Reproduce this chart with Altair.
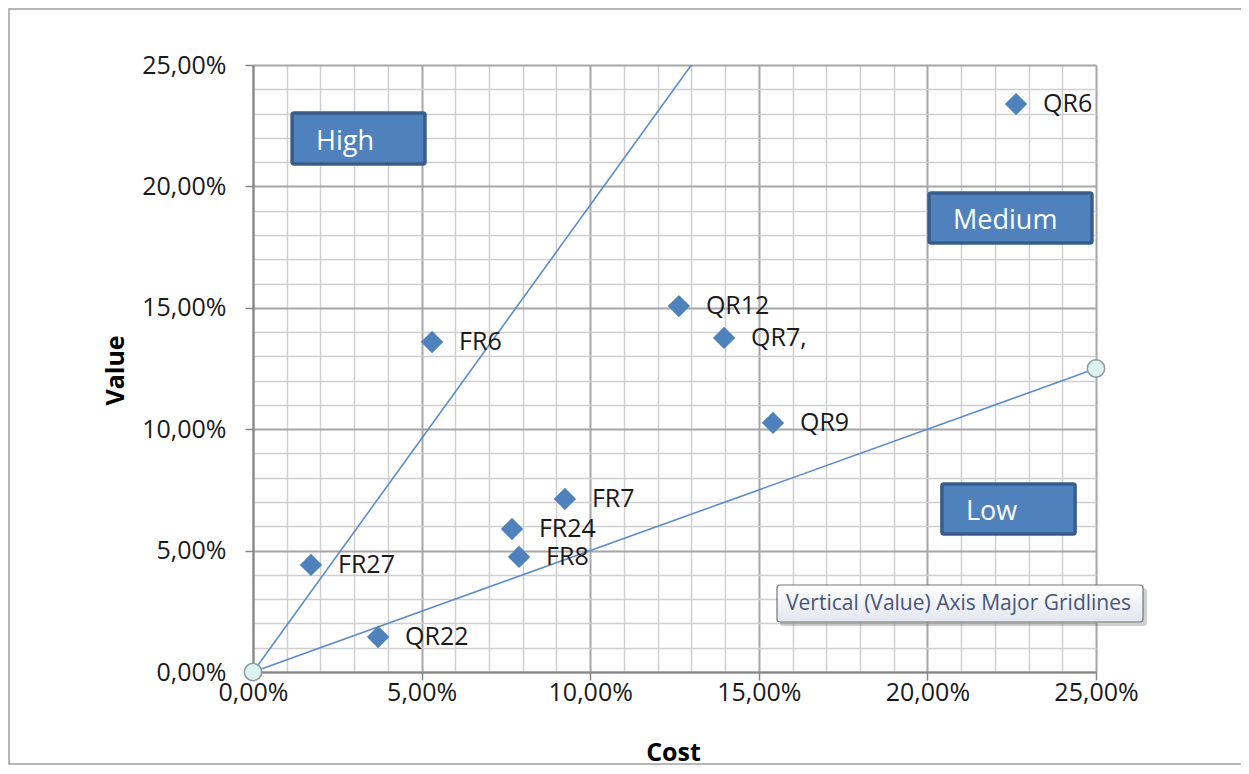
import altair as alt
import pandas as pd

# ---- data ----
names = ["QR6", "QR12", "QR7,", "FR6", "QR9", "FR7", "FR24", "FR8", "FR27", "QR22"]
cost = [0.2263, 0.1263, 0.1397, 0.0531, 0.1542, 0.0925, 0.0768, 0.0789, 0.0172, 0.0371]
value = [0.2339, 0.1507, 0.1376, 0.1359, 0.1026, 0.0713, 0.0589, 0.0474, 0.0441, 0.0144]

line_id = ["upper", "upper", "lower", "lower"]
line_cost = [0.0, 0.13, 0.0, 0.25]
line_value = [0.0, 0.25, 0.0, 0.125]

endpoint_cost = [0.0, 0.25]
endpoint_value = [0.0, 0.125]

box_labels = ["High", "Medium", "Low"]
box_x1 = [0.0116, 0.2005, 0.2043]
box_x2 = [0.0510, 0.2488, 0.2438]
box_y1 = [0.2092, 0.1767, 0.0568]
box_y2 = [0.2302, 0.1973, 0.0774]

tip_text = ["Vertical (Value) Axis Major Gridlines"]

grid_ticks = [0.00, 0.01, 0.02, 0.03, 0.04, 0.05, 0.06, 0.07, 0.08, 0.09,
              0.10, 0.11, 0.12, 0.13, 0.14, 0.15, 0.16, 0.17, 0.18, 0.19,
              0.20, 0.21, 0.22, 0.23, 0.24, 0.25]

pts = pd.DataFrame({"name": names, "cost": cost, "value": value})
lines = pd.DataFrame({"id": line_id, "cost": line_cost, "value": line_value})
ends = pd.DataFrame({"cost": endpoint_cost, "value": endpoint_value})
boxes = pd.DataFrame({"label": box_labels, "x1": box_x1, "x2": box_x2, "y1": box_y1, "y2": box_y2})
boxes["ym"] = (boxes["y1"] + boxes["y2"]) / 2
tip = pd.DataFrame({"t": tip_text})

FONT = "Open Sans"
major = "round(datum.value*100) % 5 == 0"
lab = f"{major} ? replace(format(datum.value, '.2%'), '.', ',') : ''"

common = dict(
    values=grid_ticks,
    labelExpr=lab,
    labelOverlap=False,
    labelFlush=False,
    gridColor={"condition": {"test": major, "value": "#a6a6a6"}, "value": "#cfcfcf"},
    gridWidth={"condition": {"test": major, "value": 2}, "value": 1.5},
    tickOpacity={"condition": {"test": major, "value": 1}, "value": 0},
    tickColor="#868686",
    tickWidth=1.5,
    tickSize=8,
    domainColor="#868686",
    domainWidth=2,
    labelFont=FONT,
    labelFontSize=25,
    labelColor="#1a1a1a",
    titleFont=FONT,
    titleFontSize=25,
    titleFontWeight="bold",
    titleColor="#000000",
    titleBaseline="middle",
)

xaxis = alt.Axis(title="Cost", labelPadding=0, titleX=420, titleY=80, titleAngle=0, **common)
yaxis = alt.Axis(title="Value", labelPadding=19, titleX=-138, titleY=305, titleAngle=-90, **common)

xs = alt.Scale(domain=[0, 0.25], nice=False, zero=True)
ys = alt.Scale(domain=[0, 0.25], nice=False, zero=True)

base_x = alt.X("cost:Q", scale=xs, axis=xaxis)
base_y = alt.Y("value:Q", scale=ys, axis=yaxis)

border = alt.Chart(tip).mark_rect(fill=None, stroke="#a0a0a0", strokeWidth=1.5, clip=False).encode(
    x=alt.value(-244), x2=alt.value(1400), y=alt.value(-56), y2=alt.value(699)
)

line_layer = alt.Chart(lines).mark_line(color="#5b8ccb", strokeWidth=1.6, clip=True).encode(
    x=base_x, y=base_y, detail="id:N"
)

end_layer = alt.Chart(ends).mark_point(
    shape="circle", filled=True, size=300, fill="#dcf3f3", stroke="#8c9a9a", strokeWidth=1.5, opacity=1
).encode(x=alt.X("cost:Q", scale=xs), y=alt.Y("value:Q", scale=ys))

pt_layer = alt.Chart(pts).mark_point(
    shape="diamond", filled=True, size=500, color="#4f81bd", opacity=1
).encode(x=alt.X("cost:Q", scale=xs), y=alt.Y("value:Q", scale=ys))

txt_layer = alt.Chart(pts).mark_text(
    align="left", baseline="middle", dx=27, font=FONT, fontSize=25, color="#1a1a1a"
).encode(x=alt.X("cost:Q", scale=xs), y=alt.Y("value:Q", scale=ys), text="name:N")

box_layer = alt.Chart(boxes).mark_rect(
    fill="#4f81bd", stroke="#385d8a", strokeWidth=3.5, cornerRadius=2
).encode(
    x=alt.X("x1:Q", scale=xs), x2="x2:Q", y=alt.Y("y1:Q", scale=ys), y2="y2:Q"
)

box_txt = alt.Chart(boxes).mark_text(
    align="left", baseline="middle", dx=24, dy=3, font=FONT, fontSize=27, color="#ffffff"
).encode(x=alt.X("x1:Q", scale=xs), y=alt.Y("ym:Q", scale=ys), text="label:N")

tip_shadow = alt.Chart(tip).mark_rect(fill="#000000", opacity=0.18, cornerRadius=3, clip=False).encode(
    x=alt.value(527), x2=alt.value(894), y=alt.value(523), y2=alt.value(561)
)
tip_rect = alt.Chart(tip).mark_rect(
    stroke="#767676", strokeWidth=1.2, cornerRadius=3, clip=False,
    fill=alt.Gradient(gradient="linear", x1=0, x2=0, y1=0, y2=1,
                      stops=[alt.GradientStop(color="#ffffff", offset=0),
                             alt.GradientStop(color="#e3e6ef", offset=1)]),
).encode(x=alt.value(524), x2=alt.value(890), y=alt.value(520), y2=alt.value(557))
tip_txt = alt.Chart(tip).mark_text(
    align="left", baseline="middle", font=FONT, fontSize=21, color="#46557a", clip=False
).encode(x=alt.value(533), y=alt.value(539), text="t:N")

chart = alt.layer(
    border, line_layer, end_layer, pt_layer, txt_layer, box_layer, box_txt, tip_shadow, tip_rect, tip_txt
).encode(
    x=base_x, y=base_y
).properties(
    width=843,
    height=607,
    padding={"left": 245, "top": 57, "right": 145, "bottom": 94},
    autosize=alt.AutoSizeParams(type="none"),
    background="#ffffff",
).configure_view(stroke=None)

chart.save("out.html", embed_options={"renderer": "svg", "actions": False})
